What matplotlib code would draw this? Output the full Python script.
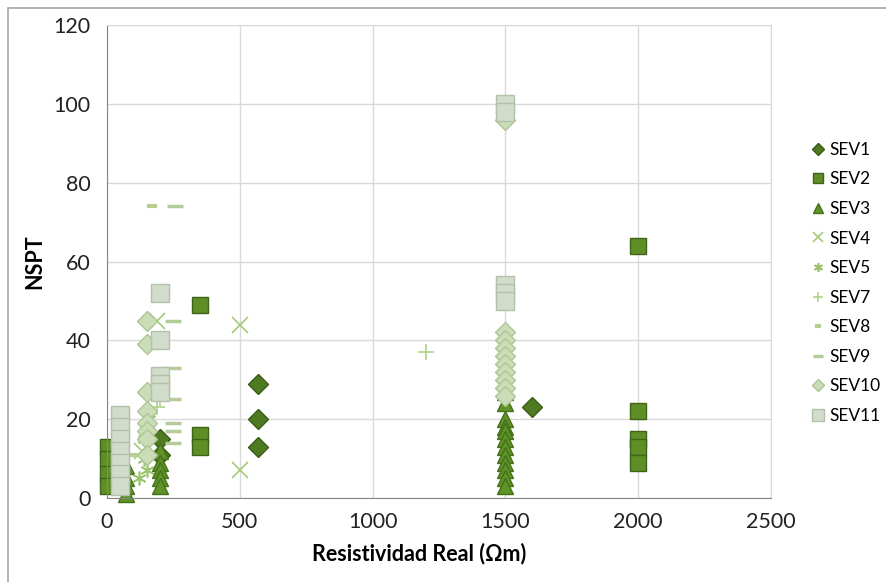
import matplotlib
matplotlib.use("Agg")
import matplotlib.pyplot as plt
from matplotlib.patches import Rectangle

plt.rcParams['font.family'] = ['Lato', 'DejaVu Sans']

# Datos (Resistividad real vs NSPT)
sev1_x = [570, 570, 570, 1600, 200, 200, 10]
sev1_y = [29, 20, 13, 23, 15, 11, 8]

sev2_x = [350, 350, 350, 2000, 2000, 2000, 2000, 2000, 5, 5, 5, 5]
sev2_y = [49, 16, 13, 64, 22, 15, 13, 9, 13, 10, 6, 3]

sev3_x = [1500] * 12 + [200] * 5 + [70] * 4
sev3_y = [27, 24, 20, 18, 17, 15, 13, 11, 9, 7, 5, 3,
          12, 9, 7, 5, 3,
          8, 5, 3, 1]

sev4_x = [500, 500, 188, 130]
sev4_y = [44, 7, 45, 12]

sev5_x = [140, 140, 150, 120, 160]
sev5_y = [15, 10, 7, 5, 20]

sev7_x = [1200, 200, 190]
sev7_y = [37, 25, 23]

sev8_x = [170, 100]
sev8_y = [74, 11]

sev9_x = [256, 250, 250, 250, 250, 250, 250]
sev9_y = [74, 45, 33, 25, 19, 17, 14]

sev10_x = [1500] * 10 + [150] * 8
sev10_y = [96, 42, 40, 38, 36, 34, 32, 30, 28, 26,
           45, 39, 27, 22, 19, 17, 15, 11]

sev11_x = [1500] * 5 + [200] * 5 + [50] * 7
sev11_y = [100, 98, 54, 52, 50,
           52, 40, 31, 29, 27,
           21, 18, 15, 12, 9, 6, 3]

series = [
    ("SEV1", sev1_x, sev1_y, dict(marker="D", ms=10, mfc="#4E7A22", mec="#3A5C17")),
    ("SEV2", sev2_x, sev2_y, dict(marker="s", ms=12, mfc="#5E8F26", mec="#3F6418")),
    ("SEV3", sev3_x, sev3_y, dict(marker="^", ms=12, mfc="#5F9328", mec="#44701A")),
    ("SEV4", sev4_x, sev4_y, dict(marker="x", ms=11, mec="#A3C97A", mew=1.2)),
    ("SEV5", sev5_x, sev5_y, dict(marker=(6, 2, 0), ms=10, mec="#9CC46F", mew=1.2)),
    ("SEV7", sev7_x, sev7_y, dict(marker="+", ms=12, mec="#AED18A", mew=1.2)),
    ("SEV8", sev8_x, sev8_y, dict(marker="_", ms=7, mec="#B9CF92", mew=3)),
    ("SEV9", sev9_x, sev9_y, dict(marker="_", ms=12, mec="#B5CB9A", mew=2.5)),
    ("SEV10", sev10_x, sev10_y, dict(marker="D", ms=10, mfc="#CADDB6", mec="#AEC597")),
    ("SEV11", sev11_x, sev11_y, dict(marker="s", ms=13, mfc="#D2DCCB", mec="#B3C1AA")),
]

fig = plt.figure(figsize=(8.86, 5.82), dpi=100)
ax = fig.add_axes([107 / 886, 84 / 582, 664 / 886, 473 / 582])

for name, xs, ys, style in series:
    ax.plot(xs, ys, linestyle="none", label=name, clip_on=False, **style)

ax.set_xlim(0, 2500)
ax.set_ylim(0, 120)
ax.set_xticks(range(0, 2501, 500))
ax.set_yticks(range(0, 121, 20))
ax.grid(True, color="#D9D9D9", lw=1)
ax.set_axisbelow(True)
for s in ["top", "right"]:
    ax.spines[s].set_color("#D9D9D9")
for s in ["left", "bottom"]:
    ax.spines[s].set_color("#868686")
ax.tick_params(axis="y", length=0, labelsize=15.5, pad=12, colors="#222222")
ax.tick_params(axis="x", length=0, labelsize=15.5, pad=10, colors="#222222")
ax.set_xlabel("Resistividad Real (Ωm)", fontsize=15.5, fontweight="bold", labelpad=7)
ax.xaxis.set_label_coords(0.47, -0.095)
ax.set_ylabel("NSPT", fontsize=15.5, fontweight="bold", labelpad=6)

fig.legend(loc="upper left", bbox_to_anchor=(804 / 886, 1 - 135 / 582),
           frameon=False, fontsize=12.5, labelspacing=0.78, handlelength=0.8,
           handletextpad=0.25, markerscale=0.65, borderaxespad=0)

# marco exterior del gráfico
fig.patches.append(Rectangle((8 / 886, -0.05), 1.1, 1 - 8 / 582 + 0.05,
                             transform=fig.transFigure, fill=False,
                             edgecolor="#A6A6A6", lw=1.2))

fig.savefig("out.png", dpi=100)
